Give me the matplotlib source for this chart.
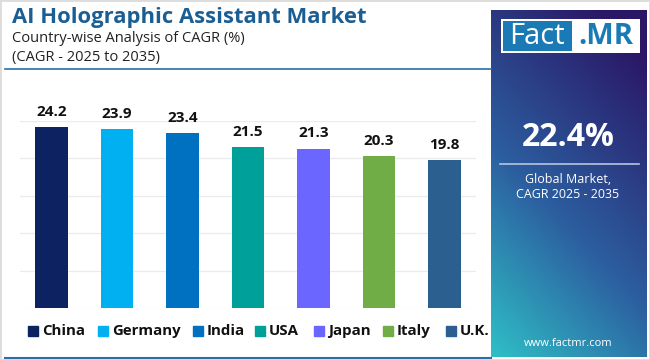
import numpy as np
import matplotlib
matplotlib.use("Agg")
import matplotlib.pyplot as plt
from matplotlib.patches import Rectangle
from matplotlib.colors import LinearSegmentedColormap

countries = ["China", "Germany", "India", "USA", "Japan", "Italy", "U.K."]
cagr = [24.2, 23.9, 23.4, 21.5, 21.3, 20.3, 19.8]
colors = ["#0d2260", "#00b0f0", "#0070c0", "#00a09a", "#6b66ff", "#70ad47", "#2a5f8f"]
global_cagr = "22.4%"

plt.rcParams['font.family'] = ['Open Sans', 'DejaVu Sans']

W, H = 650, 360
fig = plt.figure(figsize=(W / 100, H / 100), dpi=100)
fig.patch.set_facecolor("white")

# bar chart area
ax = fig.add_axes([20 / W, 1 - 308 / H, (476 - 20) / W, (308 - 121) / H])
x = np.arange(len(countries))
ax.bar(x, cagr, width=0.5, color=colors, zorder=3)
for xi, v in zip(x, cagr):
    ax.text(xi, v + 1.1, f"{v}", ha="center", va="bottom", fontsize=11,
            fontweight="bold", color="#111111", clip_on=False)
ax.set_xlim(-0.48, len(countries) - 0.52)
ax.set_ylim(0, 25)
ax.set_yticks([0, 5, 10, 15, 20, 25])
ax.yaxis.grid(True, color="#ebebeb", linewidth=0.9, zorder=0)
ax.tick_params(left=False, bottom=False, labelleft=False, labelbottom=False)
for s in ax.spines.values():
    s.set_visible(False)

# titles
fig.text(12 / W, 1 - 18 / H, "AI Holographic Assistant Market", fontsize=15.8,
         fontweight="bold", color="#1b5e93", va="center")
fig.text(12 / W, 1 - 38 / H, "Country-wise Analysis of CAGR (%)", fontsize=10.5,
         color="#222222", va="center")
fig.text(12 / W, 1 - 57 / H, "(CAGR - 2025 to 2035)", fontsize=10.5,
         color="#222222", va="center")
fig.add_artist(plt.Line2D([5 / W, 491 / W], [1 - 68.5 / H, 1 - 68.5 / H],
                          color="#2a6fa8", linewidth=1.2))
fig.add_artist(plt.Line2D([5 / W, 491 / W], [1 - 357.5 / H, 1 - 357.5 / H],
                          color="#2a6fa8", linewidth=1.5))

# legend
lx = [28, 98, 193, 255, 314, 383, 446]
for px, name, c in zip(lx, countries, colors):
    fig.add_artist(Rectangle((px / W, 1 - 336 / H), 10 / W, 10 / H, color=c,
                             transform=fig.transFigure))
    fig.text((px + 14) / W, 1 - 331 / H, name, fontsize=10.8, fontweight="bold",
             color="#111111", va="center")

# right panel with gradient
pax = fig.add_axes([491 / W, 1 - 357 / H, (647 - 491) / W, (357 - 10) / H])
ny, nx = 200, 100
u = np.linspace(0, 1, nx)[None, :]
v = np.linspace(1, 0, ny)[:, None]
t = np.clip(0.75 * v + 0.35 * u, 0, 1)
cmap = LinearSegmentedColormap.from_list(
    "panel", [(0, "#2fbfc6"), (0.45, "#2c5fa0"), (1, "#2a1766")])
pax.imshow(t, cmap=cmap, aspect="auto", extent=[0, 1, 0, 1], vmin=0, vmax=1)
pax.set_xlim(0, 1)
pax.set_ylim(0, 1)
pax.axis("off")

def py(yp):
    return 1 - (yp - 10) / (357 - 10)

def px_(xp):
    return (xp - 491) / (647 - 491)

# logo
pax.add_patch(Rectangle((px_(501), py(53)), px_(640) - px_(501), py(19) - py(53),
                        facecolor="white", edgecolor="none"))
pax.add_patch(Rectangle((px_(503), py(51)), px_(572) - px_(503), py(21) - py(51),
                        facecolor="#1a7ab5", edgecolor="none"))
pax.text(px_(537), py(36.5), "Fact", color="white", fontsize=21, ha="center",
         va="center")
pax.text(px_(606), py(36.5), ".MR", color="#1a7ab5", fontsize=21,
         fontweight="bold", ha="center", va="center")

pax.text(px_(568), py(137), global_cagr, color="white", fontsize=23,
         fontweight="bold", ha="center", va="center")
pax.plot([px_(500), px_(639)], [py(164), py(164)], color="#b8c4e0", linewidth=1.2)
pax.text(px_(568), py(180), "Global Market,", color="white", fontsize=9,
         ha="center", va="center")
pax.text(px_(568), py(194), "CAGR 2025 - 2035", color="white", fontsize=9,
         ha="center", va="center")
pax.text(px_(568), py(343), "www.factmr.com", color="white", fontsize=8,
         ha="center", va="center")

# outer border
fig.add_artist(Rectangle((0, 0), 1, 1, transform=fig.transFigure, fill=False,
                         edgecolor="#dcdcdc", linewidth=2))

fig.savefig("out.png", dpi=100)
